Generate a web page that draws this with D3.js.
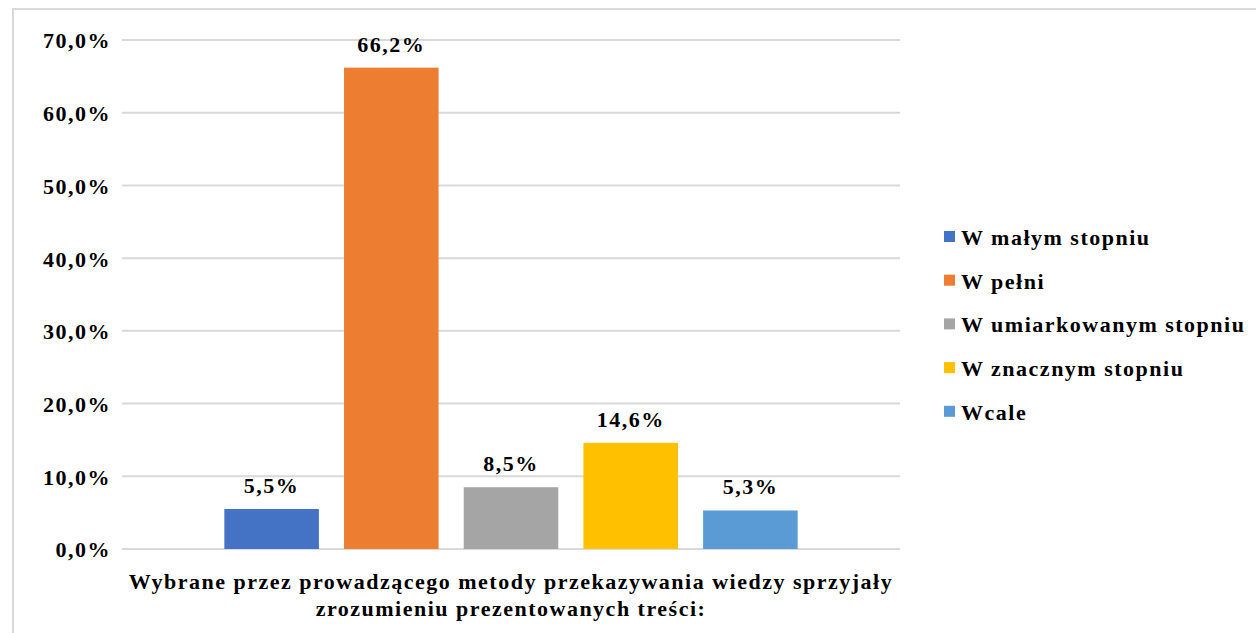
<!DOCTYPE html>
<html>
<head>
<meta charset="utf-8">
<script src="https://cdn.jsdelivr.net/npm/d3@7"></script>
<style>
  body { margin: 0; background: #fff; }
</style>
</head>
<body>
<div class="chart"></div>
<script>
// Data
const categories = ["Wybrane przez prowadzącego metody przekazywania wiedzy sprzyjały zrozumieniu prezentowanych treści:"];
const categoryLines = ["Wybrane przez prowadzącego metody przekazywania wiedzy sprzyjały", "zrozumieniu prezentowanych treści:"];
const seriesNames = ["W małym stopniu", "W pełni", "W umiarkowanym stopniu", "W znacznym stopniu", "Wcale"];
const seriesValues = [5.5, 66.2, 8.5, 14.6, 5.3];
const seriesColors = ["#4472c4", "#ed7d31", "#a5a5a5", "#ffc000", "#5b9bd5"];
const yTicks = [0, 10, 20, 30, 40, 50, 60, 70];

const width = 1256;
const height = 633;
const plot = { left: 122, right: 900, top: 40, bottom: 549 };
const fontStack = "Liberation Serif";

const fmtTick = d => d.toFixed(1).replace(".", ",") + "%";

// shared text look
function styleText(sel) {
    sel.attr("font-family", fontStack)
        .attr("font-weight", "bold")
        .attr("font-size", 22)
        .attr("letter-spacing", 1.5)
        .attr("fill", "#000");
}

const svg = d3.select(".chart")
    .append("svg")
    .attr("width", width)
    .attr("height", height);

// outer frame
svg.append("rect")
    .attr("x", 13)
    .attr("y", 9)
    .attr("width", width)
    .attr("height", height)
    .attr("fill", "none")
    .attr("stroke", "#d9d9d9")
    .attr("stroke-width", 2);

const y = d3.scaleLinear()
    .domain([0, 70])
    .range([plot.bottom, plot.top]);

const x0 = d3.scaleBand()
    .domain(categories)
    .range([plot.left, plot.right])
    .paddingOuter(0.15);

const x1 = d3.scaleBand()
    .domain(seriesNames)
    .range([0, x0.bandwidth()])
    .paddingInner(0.21)
    .paddingOuter(0.105);

// gridlines
svg.append("g")
    .selectAll("line")
    .data(yTicks)
    .join("line")
    .attr("x1", plot.left)
    .attr("x2", plot.right)
    .attr("y1", d => y(d))
    .attr("y2", d => y(d))
    .attr("stroke", "#d9d9d9")
    .attr("stroke-width", 2);

// y axis labels
const yAxis = d3.axisLeft(y)
    .tickValues(yTicks)
    .tickFormat(fmtTick)
    .tickSize(0)
    .tickPadding(11);

svg.append("g")
    .attr("transform", `translate(${plot.left},0)`)
    .call(yAxis)
    .call(g => g.select(".domain").remove())
    .call(g => g.selectAll("text").call(styleText).attr("dy", "0.36em"));

// bars
const group = svg.append("g")
    .attr("transform", `translate(${x0(categories[0])},0)`);

group.selectAll("rect")
    .data(seriesNames)
    .join("rect")
    .attr("x", d => x1(d))
    .attr("y", (d, i) => y(seriesValues[i]))
    .attr("width", x1.bandwidth())
    .attr("height", (d, i) => y(0) - y(seriesValues[i]))
    .attr("fill", (d, i) => seriesColors[i]);

group.selectAll("text.value")
    .data(seriesNames)
    .join("text")
    .attr("class", "value")
    .attr("x", d => x1(d) + x1.bandwidth() / 2)
    .attr("y", (d, i) => y(seriesValues[i]) - 16)
    .attr("text-anchor", "middle")
    .call(styleText)
    .text((d, i) => fmtTick(seriesValues[i]));

// category label
svg.append("text")
    .attr("text-anchor", "middle")
    .call(styleText)
    .selectAll("tspan")
    .data(categoryLines)
    .join("tspan")
    .attr("x", (plot.left + plot.right) / 2)
    .attr("y", (d, i) => 589 + i * 27)
    .text(d => d);

// legend
const legend = svg.append("g")
    .attr("transform", "translate(944,237)");

const rows = legend.selectAll("g")
    .data(seriesNames)
    .join("g")
    .attr("transform", (d, i) => `translate(0,${i * 43.7})`);

rows.append("rect")
    .attr("x", 0)
    .attr("y", -6)
    .attr("width", 11)
    .attr("height", 11)
    .attr("fill", (d, i) => seriesColors[i]);

rows.append("text")
    .attr("x", 17)
    .attr("y", 8)
    .call(styleText)
    .text(d => d);
</script>
</body>
</html>
